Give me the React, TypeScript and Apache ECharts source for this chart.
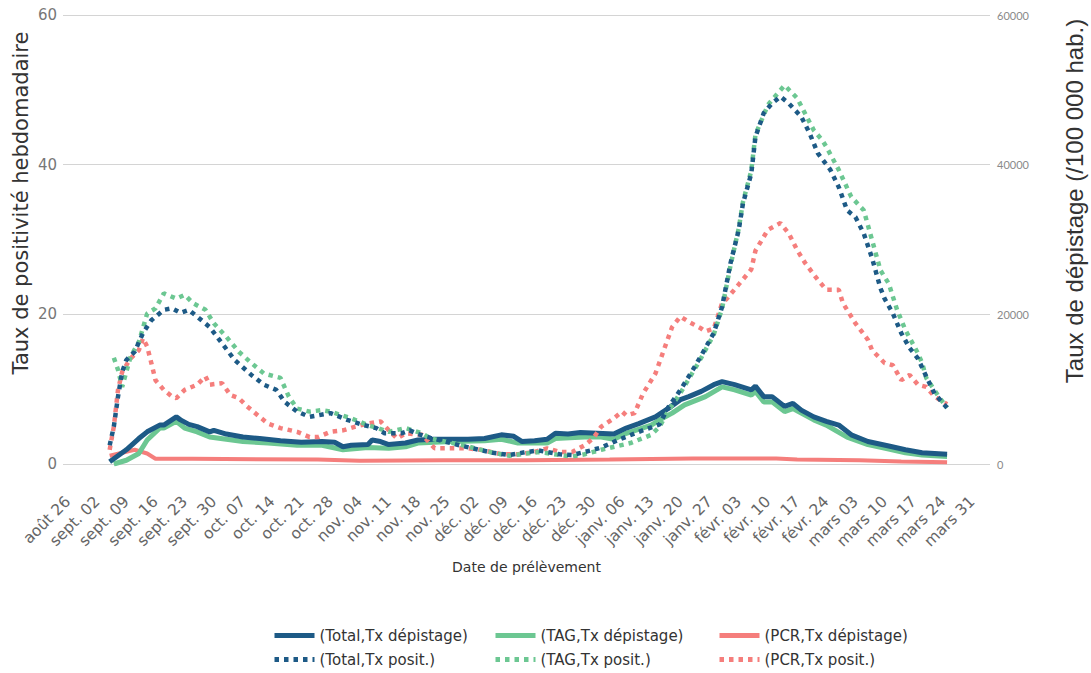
import React, { useEffect, useRef } from "react";
import * as echarts from "echarts";

// Day 0 of the x axis (first weekly tick)
const BASE_DATE = "2021-08-26";

const tickLabels = [
  "août 26", "sept. 02", "sept. 09", "sept. 16", "sept. 23", "sept. 30",
  "oct. 07", "oct. 14", "oct. 21", "oct. 28", "nov. 04", "nov. 11",
  "nov. 18", "nov. 25", "déc. 02", "déc. 09", "déc. 16", "déc. 23",
  "déc. 30", "janv. 06", "janv. 13", "janv. 20", "janv. 27", "févr. 03",
  "févr. 10", "févr. 17", "févr. 24", "mars 03", "mars 10", "mars 17",
  "mars 24", "mars 31",
];

const leftTicks = [0, 20, 40, 60];
const rightTicks = [0, 20000, 40000, 60000];

// Taux de positivité (%)
const totalPosit: [string, number][] = [
  ["2021-09-05", 2.5], ["2021-09-06", 5.0], ["2021-09-07", 9.0], ["2021-09-08", 12.3],
  ["2021-09-09", 13.9], ["2021-09-11", 15.0], ["2021-09-13", 17.5], ["2021-09-15", 19.2],
  ["2021-09-18", 20.6], ["2021-09-20", 20.8], ["2021-09-22", 20.2], ["2021-09-24", 20.6],
  ["2021-09-26", 19.7], ["2021-09-29", 18.3], ["2021-10-02", 16.1], ["2021-10-05", 13.9],
  ["2021-10-09", 11.9], ["2021-10-12", 10.6], ["2021-10-15", 9.9], ["2021-10-17", 8.3],
  ["2021-10-20", 7.0], ["2021-10-23", 6.3], ["2021-10-25", 6.5], ["2021-10-28", 6.8],
  ["2021-11-01", 5.9], ["2021-11-05", 5.2], ["2021-11-08", 4.8], ["2021-11-10", 4.1],
  ["2021-11-14", 4.1], ["2021-11-16", 4.5], ["2021-11-18", 4.0], ["2021-11-21", 3.5],
  ["2021-11-28", 2.5], ["2021-12-01", 2.1], ["2021-12-06", 1.5], ["2021-12-10", 1.2],
  ["2021-12-14", 1.6], ["2021-12-17", 1.8], ["2021-12-22", 1.3], ["2021-12-25", 1.2],
  ["2021-12-28", 1.6], ["2022-01-01", 2.2], ["2022-01-05", 3.2], ["2022-01-10", 4.3],
  ["2022-01-15", 5.3], ["2022-01-17", 7.5], ["2022-01-20", 9.9], ["2022-01-23", 12.6],
  ["2022-01-25", 14.5], ["2022-01-28", 17.5], ["2022-01-30", 21.0], ["2022-02-01", 26.8],
  ["2022-02-03", 31.3], ["2022-02-04", 34.8], ["2022-02-06", 38.8], ["2022-02-07", 43.7],
  ["2022-02-09", 46.9], ["2022-02-11", 48.2], ["2022-02-13", 49.1], ["2022-02-15", 48.2],
  ["2022-02-18", 46.4], ["2022-02-20", 44.2], ["2022-02-22", 41.5], ["2022-02-25", 39.3],
  ["2022-02-27", 37.0], ["2022-03-01", 33.9], ["2022-03-03", 33.0], ["2022-03-05", 30.8],
  ["2022-03-07", 27.5], ["2022-03-09", 23.5], ["2022-03-10", 22.1], ["2022-03-12", 20.1],
  ["2022-03-14", 17.5], ["2022-03-16", 15.5], ["2022-03-18", 14.1], ["2022-03-20", 11.7],
  ["2022-03-22", 9.4], ["2022-03-25", 7.5],
];

const tagPosit: [string, number][] = [
  ["2021-09-06", 14.2], ["2021-09-07", 12.6], ["2021-09-08", 10.3], ["2021-09-10", 14.3],
  ["2021-09-12", 16.3], ["2021-09-14", 20.1], ["2021-09-16", 20.8], ["2021-09-18", 22.8],
  ["2021-09-21", 22.1], ["2021-09-23", 22.6], ["2021-09-25", 21.5], ["2021-09-28", 20.6],
  ["2021-09-30", 18.8], ["2021-10-03", 17.0], ["2021-10-06", 15.0], ["2021-10-09", 13.5],
  ["2021-10-12", 12.1], ["2021-10-16", 11.5], ["2021-10-18", 9.0], ["2021-10-20", 7.4],
  ["2021-10-23", 7.0], ["2021-10-26", 7.2], ["2021-10-28", 7.0], ["2021-11-02", 6.1],
  ["2021-11-06", 5.2], ["2021-11-11", 4.3], ["2021-11-15", 4.8], ["2021-11-19", 4.1],
  ["2021-11-21", 3.4], ["2021-11-28", 2.6], ["2021-12-01", 2.2], ["2021-12-06", 1.5],
  ["2021-12-10", 1.1], ["2021-12-14", 1.4], ["2021-12-17", 1.6], ["2021-12-22", 1.2],
  ["2021-12-25", 1.0], ["2021-12-28", 1.3], ["2022-01-01", 1.9], ["2022-01-08", 2.8],
  ["2022-01-13", 3.9], ["2022-01-15", 5.0], ["2022-01-17", 7.0], ["2022-01-20", 9.5],
  ["2022-01-23", 12.3], ["2022-01-25", 14.2], ["2022-01-28", 17.3], ["2022-01-30", 20.8],
  ["2022-02-01", 26.5], ["2022-02-03", 31.5], ["2022-02-04", 35.0], ["2022-02-06", 39.2],
  ["2022-02-07", 44.0], ["2022-02-10", 48.0], ["2022-02-14", 50.6], ["2022-02-17", 48.9],
  ["2022-02-21", 44.6], ["2022-02-23", 43.3], ["2022-02-24", 42.4], ["2022-02-27", 39.3],
  ["2022-03-02", 35.7], ["2022-03-05", 33.9], ["2022-03-07", 29.9], ["2022-03-09", 25.9],
  ["2022-03-11", 24.1], ["2022-03-13", 20.6], ["2022-03-15", 17.9], ["2022-03-18", 14.8],
  ["2022-03-19", 13.5], ["2022-03-20", 11.5], ["2022-03-23", 9.0], ["2022-03-25", 7.5],
];

const pcrPosit: [string, number][] = [
  ["2021-09-05", 1.9], ["2021-09-06", 5.0], ["2021-09-07", 9.9], ["2021-09-08", 12.3],
  ["2021-09-10", 14.1], ["2021-09-12", 15.2], ["2021-09-13", 16.8], ["2021-09-14", 15.7],
  ["2021-09-15", 13.5], ["2021-09-16", 11.2], ["2021-09-18", 9.9], ["2021-09-20", 9.0],
  ["2021-09-21", 8.8], ["2021-09-23", 9.9], ["2021-09-26", 10.6], ["2021-09-28", 11.7],
  ["2021-09-29", 10.6], ["2021-10-02", 10.8], ["2021-10-04", 9.2], ["2021-10-06", 8.8],
  ["2021-10-08", 7.7], ["2021-10-11", 6.3], ["2021-10-13", 5.4], ["2021-10-16", 4.8],
  ["2021-10-20", 4.3], ["2021-10-23", 3.6], ["2021-10-25", 3.6], ["2021-10-28", 4.3],
  ["2021-10-31", 4.5], ["2021-11-03", 5.0], ["2021-11-06", 5.4], ["2021-11-09", 5.7],
  ["2021-11-11", 4.5], ["2021-11-13", 3.4], ["2021-11-15", 4.1], ["2021-11-19", 3.9],
  ["2021-11-22", 2.1], ["2021-11-26", 2.1], ["2021-11-30", 2.1], ["2021-12-03", 1.9],
  ["2021-12-08", 1.3], ["2021-12-12", 1.3], ["2021-12-16", 1.6], ["2021-12-19", 2.1],
  ["2021-12-22", 1.6], ["2021-12-25", 1.6], ["2021-12-28", 2.5], ["2021-12-30", 3.4],
  ["2022-01-01", 5.0], ["2022-01-04", 6.1], ["2022-01-06", 7.0], ["2022-01-07", 6.5],
  ["2022-01-09", 6.8], ["2022-01-11", 9.4], ["2022-01-14", 12.1], ["2022-01-16", 15.2],
  ["2022-01-18", 18.3], ["2022-01-20", 19.7], ["2022-01-22", 19.0], ["2022-01-25", 18.1],
  ["2022-01-26", 17.7], ["2022-01-28", 18.1], ["2022-01-30", 21.5], ["2022-01-31", 22.0],
  ["2022-02-03", 24.0], ["2022-02-06", 26.0], ["2022-02-07", 28.5], ["2022-02-10", 31.3],
  ["2022-02-12", 31.9], ["2022-02-13", 32.2], ["2022-02-15", 30.8], ["2022-02-17", 28.6],
  ["2022-02-19", 26.8], ["2022-02-22", 24.6], ["2022-02-24", 23.3], ["2022-02-27", 23.3],
  ["2022-02-28", 21.5], ["2022-03-01", 20.6], ["2022-03-03", 18.8], ["2022-03-06", 16.6],
  ["2022-03-07", 15.2], ["2022-03-10", 13.5], ["2022-03-12", 13.2], ["2022-03-14", 11.2],
  ["2022-03-16", 11.9], ["2022-03-18", 10.6], ["2022-03-20", 10.3], ["2022-03-22", 9.0],
  ["2022-03-25", 8.0],
];

// Taux de dépistage (/100 000 hab.)
const totalDepist: [string, number][] = [
  ["2021-09-05", 300], ["2021-09-09", 1900], ["2021-09-12", 3400], ["2021-09-14", 4300],
  ["2021-09-17", 5200], ["2021-09-18", 5200], ["2021-09-21", 6300], ["2021-09-22", 5900],
  ["2021-09-24", 5300], ["2021-09-26", 5000], ["2021-09-29", 4300], ["2021-09-30", 4500],
  ["2021-10-03", 4000], ["2021-10-07", 3600], ["2021-10-11", 3400], ["2021-10-16", 3100],
  ["2021-10-21", 2900], ["2021-10-26", 3000], ["2021-10-29", 2900], ["2021-10-31", 2300],
  ["2021-11-02", 2500], ["2021-11-06", 2600], ["2021-11-07", 3200], ["2021-11-09", 3000],
  ["2021-11-11", 2600], ["2021-11-15", 2800], ["2021-11-18", 3200], ["2021-11-22", 3300],
  ["2021-11-30", 3300], ["2021-12-04", 3400], ["2021-12-08", 3900], ["2021-12-11", 3700],
  ["2021-12-13", 3000], ["2021-12-16", 3100], ["2021-12-19", 3300], ["2021-12-21", 4100],
  ["2021-12-24", 4000], ["2021-12-27", 4200], ["2022-01-04", 4000], ["2022-01-07", 4800],
  ["2022-01-10", 5400], ["2022-01-14", 6300], ["2022-01-17", 7400], ["2022-01-20", 8600],
  ["2022-01-22", 9000], ["2022-01-25", 9700], ["2022-01-28", 10600], ["2022-01-30", 11000],
  ["2022-02-02", 10600], ["2022-02-06", 9900], ["2022-02-07", 10400], ["2022-02-09", 9000],
  ["2022-02-11", 9000], ["2022-02-14", 7700], ["2022-02-16", 8100], ["2022-02-18", 7200],
  ["2022-02-21", 6300], ["2022-02-24", 5700], ["2022-02-27", 5200], ["2022-03-02", 3900],
  ["2022-03-06", 3000], ["2022-03-11", 2400], ["2022-03-15", 1900], ["2022-03-19", 1500],
  ["2022-03-22", 1400], ["2022-03-25", 1300],
];

const tagDepist: [string, number][] = [
  ["2021-09-06", 0], ["2021-09-09", 500], ["2021-09-12", 1400], ["2021-09-14", 3200],
  ["2021-09-17", 4800], ["2021-09-18", 4800], ["2021-09-21", 5700], ["2021-09-23", 4800],
  ["2021-09-26", 4300], ["2021-09-29", 3600], ["2021-10-03", 3300], ["2021-10-07", 3000],
  ["2021-10-13", 2800], ["2021-10-20", 2500], ["2021-10-26", 2500], ["2021-10-31", 1900],
  ["2021-11-06", 2200], ["2021-11-11", 2100], ["2021-11-15", 2300], ["2021-11-18", 2800],
  ["2021-11-26", 3000], ["2021-12-04", 3100], ["2021-12-08", 3300], ["2021-12-12", 2800],
  ["2021-12-19", 2800], ["2021-12-21", 3400], ["2021-12-28", 3600], ["2022-01-01", 3600],
  ["2022-01-04", 3300], ["2022-01-07", 4100], ["2022-01-13", 5200], ["2022-01-15", 5900],
  ["2022-01-18", 6800], ["2022-01-21", 7900], ["2022-01-26", 9000], ["2022-01-30", 10300],
  ["2022-02-02", 9900], ["2022-02-06", 9200], ["2022-02-07", 9700], ["2022-02-09", 8300],
  ["2022-02-11", 8300], ["2022-02-14", 7000], ["2022-02-16", 7400], ["2022-02-18", 6800],
  ["2022-02-21", 5900], ["2022-02-24", 5200], ["2022-03-01", 3600], ["2022-03-06", 2600],
  ["2022-03-11", 2000], ["2022-03-15", 1500], ["2022-03-19", 1200], ["2022-03-25", 1000],
];

const pcrDepist: [string, number][] = [
  ["2021-09-05", 1100], ["2021-09-08", 1500], ["2021-09-11", 1900], ["2021-09-14", 1400],
  ["2021-09-16", 700], ["2021-09-25", 700], ["2021-10-25", 600], ["2021-11-04", 450],
  ["2021-11-24", 500], ["2021-12-14", 500], ["2022-01-03", 600], ["2022-01-23", 750],
  ["2022-02-12", 750], ["2022-02-17", 600], ["2022-03-04", 500], ["2022-03-14", 350],
  ["2022-03-25", 250],
];

const NAMES = {
  totalDep: "(Total,Tx dépistage)",
  tagDep: "(TAG,Tx dépistage)",
  pcrDep: "(PCR,Tx dépistage)",
  totalPos: "(Total,Tx posit.)",
  tagPos: "(TAG,Tx posit.)",
  pcrPos: "(PCR,Tx posit.)",
};

const BLUE = "#1d5a86";
const GREEN = "#6cc792";
const SALMON = "#f57e7c";

const DAY = 86400000;
const dayIndex = (d: string) => Math.round((Date.parse(d) - Date.parse(BASE_DATE)) / DAY);
const toXY = (arr: [string, number][]) => arr.map(([d, v]) => [dayIndex(d), v]);

const DOT: number[] = [4.5, 5];

export default function App() {
  const ref = useRef<HTMLDivElement>(null);

  useEffect(() => {
    if (!ref.current) return;
    const chart = echarts.init(ref.current, undefined, { renderer: "svg" });
    const tickValues = tickLabels.map((_, i) => i * 7);

    const solid = (color: string, width: number) => ({
      color,
      width,
      type: "solid" as const,
    });
    const dotted = (color: string) => ({
      color,
      width: 4.5,
      type: DOT,
      cap: "butt" as const,
    });

    const mkSeries = (name: string, data: [string, number][], axis: number, ls: any, color: string) => ({
      name,
      type: "line",
      yAxisIndex: axis,
      data: toXY(data),
      symbol: "none",
      showSymbol: false,
      color,
      lineStyle: ls,
      emphasis: { disabled: true },
    });

    const legendPos: [string, number, number, boolean][] = [
      [NAMES.totalDep, 272, 628, false],
      [NAMES.tagDep, 493, 628, false],
      [NAMES.pcrDep, 717, 628, false],
      [NAMES.totalPos, 272, 652, true],
      [NAMES.tagPos, 493, 652, true],
      [NAMES.pcrPos, 717, 652, true],
    ];

    chart.setOption({
      animation: false,
      backgroundColor: "#ffffff",
      grid: { left: 63, right: 101, top: 15, bottom: 209, containLabel: false },
      legend: legendPos.map(([name, left, top, isDot]) => ({
        data: [name],
        left,
        top,
        padding: 0,
        itemWidth: 40,
        itemHeight: 14,
        itemGap: 0,
        selectedMode: false,
        itemStyle: { opacity: 0 },
        lineStyle: { width: 5, type: isDot ? DOT : "solid", cap: "butt" },
        textStyle: { fontFamily: "DejaVu Sans", fontSize: 15, color: "#333" },
      })),
      xAxis: {
        type: "value",
        min: -1.2,
        max: 221.3,
        name: "Date de prélèvement",
        nameLocation: "middle",
        nameGap: 96,
        nameTextStyle: { fontFamily: "DejaVu Sans", fontSize: 14, color: "#333" },
        axisLine: { show: false },
        axisTick: { show: false, customValues: tickValues },
        splitLine: { show: false },
        axisLabel: {
          customValues: tickValues,
          rotate: 45,
          margin: 35,
          fontFamily: "DejaVu Sans",
          fontSize: 15.5,
          color: "#666",
          formatter: (v: number) => tickLabels[Math.round(v / 7)] ?? "",
        },
      },
      yAxis: [
        {
          type: "value",
          min: leftTicks[0],
          max: leftTicks[leftTicks.length - 1],
          interval: leftTicks[1] - leftTicks[0],
          axisLine: { show: false },
          axisTick: { show: false },
          splitLine: { show: true, lineStyle: { color: "#d4d4d4", width: 1 } },
          axisLabel: { fontFamily: "DejaVu Sans", fontSize: 15, color: "#777", margin: 6 },
        },
        {
          type: "value",
          min: rightTicks[0],
          max: rightTicks[rightTicks.length - 1],
          interval: rightTicks[1] - rightTicks[0],
          axisLine: { show: false },
          axisTick: { show: false },
          splitLine: { show: false },
          axisLabel: {
            fontFamily: "Lato",
            fontSize: 11,
            color: "#8a8a8a",
            margin: 7,
            formatter: (v: number) => String(v),
          },
        },
      ],
      graphic: [
        {
          type: "text",
          x: 21,
          y: 203,
          rotation: Math.PI / 2,
          style: {
            text: "Taux de positivité hebdomadaire",
            font: '21px "DejaVu Sans"',
            fill: "#333",
            align: "center",
            verticalAlign: "middle",
            textAlign: "center",
            textVerticalAlign: "middle",
          },
        },
        {
          type: "text",
          x: 1074,
          y: 201,
          rotation: Math.PI / 2,
          style: {
            text: "Taux de dépistage (/100 000 hab.)",
            font: '24px "Liberation Sans"',
            fill: "#333",
            align: "center",
            verticalAlign: "middle",
            textAlign: "center",
            textVerticalAlign: "middle",
          },
        },
      ],
      series: [
        mkSeries(NAMES.pcrDep, pcrDepist, 1, solid(SALMON, 4), SALMON),
        mkSeries(NAMES.tagDep, tagDepist, 1, solid(GREEN, 5), GREEN),
        mkSeries(NAMES.totalDep, totalDepist, 1, solid(BLUE, 5), BLUE),
        mkSeries(NAMES.pcrPos, pcrPosit, 0, dotted(SALMON), SALMON),
        mkSeries(NAMES.tagPos, tagPosit, 0, dotted(GREEN), GREEN),
        mkSeries(NAMES.totalPos, totalPosit, 0, dotted(BLUE), BLUE),
      ],
    });

    return () => chart.dispose();
  }, []);

  return (
    <div
      ref={ref}
      style={{ position: "fixed", left: 0, top: 0, width: 1091, height: 673, background: "#fff" }}
    />
  );
}
